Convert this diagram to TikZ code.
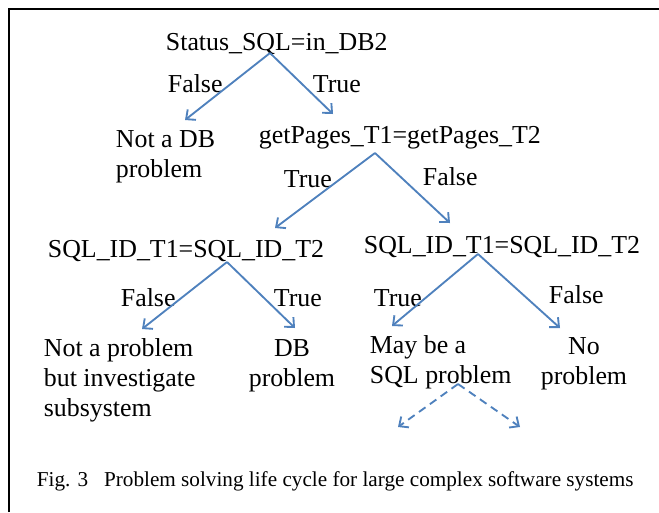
\documentclass[tikz,border=0pt]{standalone}
\usepackage{fontspec}
\setmainfont{Liberation Serif}
\usetikzlibrary{arrows.meta}
\definecolor{azul}{HTML}{4F81BD}
\begin{document}
\begin{tikzpicture}[x=0.75pt, y=-0.75pt, >={Straight Barb[length=5.5pt,width=10pt]},
  line width=1.4pt,
  texto/.style={inner sep=0pt, anchor=base west, font=\fontsize{19.4}{22.5}\selectfont},
  flecha/.style={->, draw=azul},
  punteada/.style={->, draw=azul, dash pattern=on 6pt off 4pt}]
\useasboundingbox (0,0) rectangle (659,512);
% Marco
\draw[line width=1.8pt] (9,512) -- (9,9) -- (659,9);
% Nodos
\node [texto] (status)  at (165,50) {Status\_SQL=in\_DB2};
\node [texto] (F1)      at (167,92) {False};
\node [texto] (T1)      at (312,92) {True};
\node [texto, align=left] (notdb) at (115,177) {Not a DB\\problem};
\node [texto] (pages)   at (258,143) {getPages\_T1=getPages\_T2};
\node [texto] (T2)      at (283,187) {True};
\node [texto] (F2)      at (422,185) {False};
\node [texto] (sqlL)    at (47,257) {SQL\_ID\_T1=SQL\_ID\_T2};
\node [texto] (sqlR)    at (363,253) {SQL\_ID\_T1=SQL\_ID\_T2};
\node [texto] (F3)      at (120,306) {False};
\node [texto] (T3)      at (273,306) {True};
\node [texto] (T4)      at (373,306) {True};
\node [texto] (F4)      at (548,303) {False};
\node [texto, align=left] (notprob) at (43,416) {Not a problem\\but investigate\\subsystem};
\node [texto, anchor=base, align=center] (dbprob) at (292,386) {DB\\problem};
\node [texto, align=left] (sqlprob) at (369,383) {May be a\\SQL problem};
\node [texto, anchor=base, align=center] (noprob) at (584,384) {No\\problem};
\node [texto, font=\fontsize{15.9}{19}\selectfont] (caption) at (36,486)
  {Fig. 3\hspace{0.75em}Problem solving life cycle for large complex software systems};
% Puntos de las flechas
\coordinate (s0) at (270,53);
\coordinate (s1) at (185,120);
\coordinate (s2) at (333,114);
\coordinate (p0) at (375,153);
\coordinate (p1) at (275,228);
\coordinate (p2) at (450,223);
\coordinate (l0) at (227,262);
\coordinate (l1) at (142,329);
\coordinate (l2) at (295,328);
\coordinate (r0) at (478,254);
\coordinate (r1) at (392,326);
\coordinate (r2) at (560,328);
\coordinate (q0) at (458,384);
\coordinate (q1) at (398,427);
\coordinate (q2) at (520,427);
% Flechas
\path (s0) edge [flecha] (s1);
\path (s0) edge [flecha] (s2);
\path (p0) edge [flecha] (p1);
\path (p0) edge [flecha] (p2);
\path (l0) edge [flecha] (l1);
\path (l0) edge [flecha] (l2);
\path (r0) edge [flecha] (r1);
\path (r0) edge [flecha] (r2);
\path (q0) edge [punteada] (q1);
\path (q0) edge [punteada] (q2);
\end{tikzpicture}
\end{document}
